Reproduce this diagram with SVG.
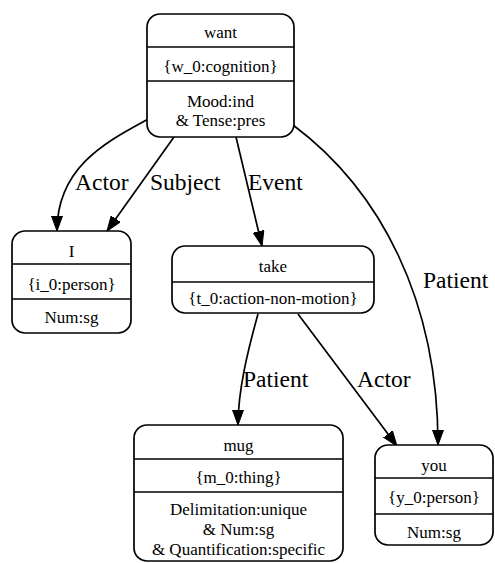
<svg xmlns="http://www.w3.org/2000/svg" width="495" height="563" viewBox="0 0 495 563">
  <style>
    .box { fill: #ffffff; stroke: #000000; stroke-width: 1.7; }
    .sep { stroke: #000000; stroke-width: 1.7; }
    .nt { font-family: 'Liberation Serif', 'Times New Roman', serif; font-size: 17px; text-anchor: middle; fill: #000000; }
    .edge { fill: none; stroke: #000000; stroke-width: 1.7; }
    .el { font-family: 'Liberation Serif', 'Times New Roman', serif; font-size: 23.5px; fill: #000000; }
  </style>
  <defs>
    <marker id="arrow" markerUnits="userSpaceOnUse" markerWidth="16" markerHeight="12" refX="15" refY="6" orient="auto">
      <path d="M0,0.5 L15,6 L0,11.5 Z" fill="#000000" stroke="#000000" stroke-width="1"/>
    </marker>
  </defs>
  <rect width="495" height="563" fill="#ffffff"/>

  <!-- edges with their role labels -->
  <g id="connectors">
    <path class="edge" d="M150,118 C110,140 57,165 57,231" marker-end="url(#arrow)"/>
    <path class="edge" d="M174,137 L107,231" marker-end="url(#arrow)"/>
    <path class="edge" d="M236,137 L262,246" marker-end="url(#arrow)"/>
    <path class="edge" d="M293,125 C380,190 438,300 438,445" marker-end="url(#arrow)"/>
    <path class="edge" d="M258,314 C248,350 238,390 238,425" marker-end="url(#arrow)"/>
    <path class="edge" d="M298,314 L397,446" marker-end="url(#arrow)"/>
    <text class="el" x="75" y="190">Actor</text>
    <text class="el" x="150" y="190">Subject</text>
    <text class="el" x="248" y="190">Event</text>
    <text class="el" x="423" y="288">Patient</text>
    <text class="el" x="243" y="387">Patient</text>
    <text class="el" x="357" y="387">Actor</text>
  </g>

  <g id="want">
    <rect class="box" x="147" y="14" width="147" height="123" rx="13" ry="13"/>
    <line class="sep" x1="147" y1="47" x2="294" y2="47"/>
    <line class="sep" x1="147" y1="81" x2="294" y2="81"/>
    <text class="nt" x="220.5" y="38">want</text>
    <text class="nt" x="220.5" y="72">{w_0:cognition}</text>
    <text class="nt" x="220.5" y="107">Mood:ind</text>
    <text class="nt" x="220.5" y="126">&amp; Tense:pres</text>
  </g>

  <g id="I">
    <rect class="box" x="12" y="231" width="119" height="102" rx="13" ry="13"/>
    <line class="sep" x1="12" y1="264" x2="131" y2="264"/>
    <line class="sep" x1="12" y1="299" x2="131" y2="299"/>
    <text class="nt" x="71.5" y="257">I</text>
    <text class="nt" x="71.5" y="290">{i_0:person}</text>
    <text class="nt" x="71.5" y="323">Num:sg</text>
  </g>

  <g id="take">
    <rect class="box" x="172" y="246" width="202" height="67" rx="13" ry="13"/>
    <line class="sep" x1="172" y1="282" x2="374" y2="282"/>
    <text class="nt" x="273" y="272">take</text>
    <text class="nt" x="273" y="304">{t_0:action-non-motion}</text>
  </g>

  <g id="mug">
    <rect class="box" x="134" y="425" width="209" height="136" rx="13" ry="13"/>
    <line class="sep" x1="134" y1="459" x2="343" y2="459"/>
    <line class="sep" x1="134" y1="492" x2="343" y2="492"/>
    <text class="nt" x="238.5" y="451">mug</text>
    <text class="nt" x="238.5" y="483">{m_0:thing}</text>
    <text class="nt" x="238.5" y="515">Delimitation:unique</text>
    <text class="nt" x="238.5" y="535">&amp; Num:sg</text>
    <text class="nt" x="238.5" y="555">&amp; Quantification:specific</text>
  </g>

  <g id="you">
    <rect class="box" x="375" y="445" width="118" height="100" rx="13" ry="13"/>
    <line class="sep" x1="375" y1="478" x2="493" y2="478"/>
    <line class="sep" x1="375" y1="514" x2="493" y2="514"/>
    <text class="nt" x="434" y="471">you</text>
    <text class="nt" x="434" y="503">{y_0:person}</text>
    <text class="nt" x="434" y="538">Num:sg</text>
  </g>
</svg>
